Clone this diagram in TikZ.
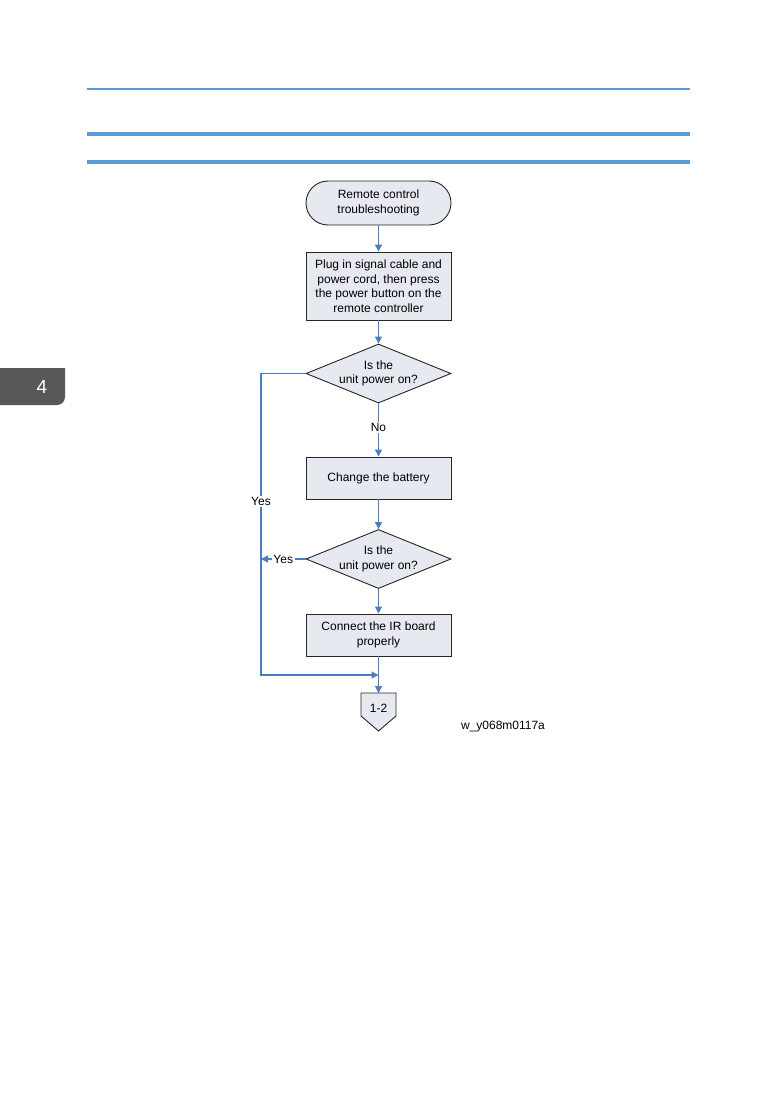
\documentclass[tikz,border=0pt]{standalone}
\usepackage{fontspec}
\setmainfont{Liberation Sans}
\usetikzlibrary{shapes.geometric,arrows.meta}
\definecolor{lineblue}{HTML}{4A7EBF}
\definecolor{headblue}{HTML}{5B9BD5}
\definecolor{shapefill}{HTML}{E6E9F0}
\definecolor{tabgray}{HTML}{58585A}
\begin{document}
\begin{tikzpicture}[x=1pt,y=-1pt,
  font=\fontsize{12}{14.5}\selectfont,
  shapebox/.style={draw=black!85,line width=0.9pt,fill=shapefill,minimum width=145pt,align=center,inner sep=2pt},
  terminal/.style={shapebox,rounded corners=22pt,minimum height=44pt},
  decision/.style={draw=black!85,line width=0.9pt,fill=shapefill,diamond,minimum width=145pt,minimum height=59pt,inner sep=0pt,align=center,aspect=2.45},
  conn/.style={draw=lineblue,line width=1.2pt,-{Triangle[length=7pt,width=7pt]}},
  plainconn/.style={draw=lineblue,line width=1.2pt},
  lbl/.style={fill=white,inner sep=1.5pt}
]
\useasboundingbox (0,0) rectangle (777,1102);
\fill[white] (0,0) rectangle (777,1102);
% header lines
\draw[headblue,line width=1.8pt] (87,89) -- (690,89);
\draw[headblue,line width=4.5pt] (87,134) -- (690,134);
\draw[headblue,line width=3.5pt] (87,162) -- (690,162);
% chapter tab
\fill[tabgray] (0,368) -- (65,368) -- (65,397) arc[start angle=0,end angle=90,radius=8] -- (57,405) -- (0,405) -- cycle;
\node[text=white,font=\fontsize{19}{21}\selectfont] (tab) at (42,387) {4};
% nodes
\node[terminal] (start) at (378.5,203) {Remote control\\troubleshooting};
\node[shapebox,minimum height=68pt] (plug) at (378.5,286) {Plug in signal cable and\\power cord, then press\\the power button on the\\remote controller};
\node[decision] (d1) at (378.5,373.5) {Is the\\unit power on?};
\node[shapebox,minimum height=42pt] (batt) at (378.5,478) {Change the battery};
\node[decision] (d2) at (378.5,559) {Is the\\unit power on?};
\node[shapebox,minimum height=42pt] (ir) at (378.5,635) {Connect the IR board\\properly};
\draw[draw=black!85,line width=0.9pt,fill=shapefill] (361,693) -- (396,693) -- (396,716) -- (378.5,731) -- (361,716) -- cycle;
\node (end) at (378.5,708) {1-2};
\coordinate (join) at (378.5,693);
\coordinate (l1) at (261,373.5);
\coordinate (l2) at (261,675);
\coordinate (m) at (378.5,675);
\coordinate (y2) at (261,559);
% connectors
\draw[conn] (start) -- (plug);
\draw[conn] (plug) -- (d1);
\draw[conn] (d1) -- node[lbl,pos=0.45] (no) {No} (batt);
\draw[conn] (batt) -- (d2);
\draw[conn] (d2) -- (ir);
\draw[plainconn] (ir) -- (join);
\draw[conn] (d1.west) -- (l1) -- node[lbl,pos=0.425] (yes1) {Yes} (l2) -- (m);
\draw[conn] (d2.west) -- node[lbl,pos=0.5] (yes2) {Yes} (y2);
\draw[conn] (m) -- (join);
\node (fig) at (503,727) {w\_y068m0117a};
\end{tikzpicture}
\end{document}
